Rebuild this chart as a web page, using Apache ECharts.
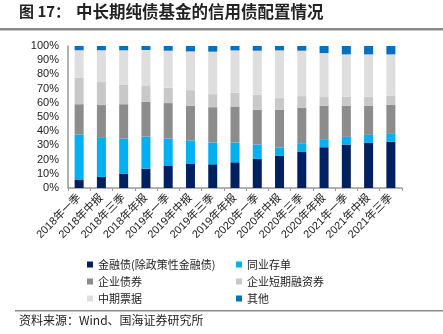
<!DOCTYPE html>
<html><head><meta charset="utf-8">
<script src="https://cdn.jsdelivr.net/npm/echarts@6/dist/echarts.min.js"></script>
<style>html,body{margin:0;padding:0;background:#fff}#c{width:443px;height:334px}</style>
</head><body><div id="c"></div>
<script>
const categories = ['2018年一季','2018年中报','2018年三季','2018年年报','2019年一季','2019年中报','2019年三季','2019年年报','2020年一季','2020年中报','2020年三季','2020年年报','2021年一季','2021年中报','2021年三季'];
const finBonds   = [6, 7.8, 9.9, 13.6, 15.5, 16.9, 16.7, 18.1, 20.5, 22.6, 25.4, 28.7, 30.6, 32, 32.5];
const ncds       = [31.6, 27.5, 24.9, 22.6, 19.3, 16.5, 15.3, 13.9, 10.1, 5.9, 6.1, 5.7, 5.4, 5.4, 5.6];
const corpBonds  = [21.4, 23.1, 24.2, 24.5, 25, 24.5, 24.9, 25.4, 24.5, 26.6, 25, 23.5, 21.9, 20.5, 20.5];
const cps        = [18.6, 16.2, 13.9, 11.1, 10.8, 11, 9.2, 9.7, 10.5, 8.2, 8.2, 6.1, 6.3, 6.3, 6.3];
const mtns       = [19.4, 22.4, 24.1, 25.4, 26.1, 27.3, 29.9, 29.8, 31.1, 33.6, 32, 31, 29.9, 29.9, 29.2];
const others     = [3, 3, 3, 2.8, 3.3, 3.8, 4, 3.1, 3.3, 3.1, 3.3, 5, 5.9, 5.9, 5.9];
const seriesNames = ['金融债(除政策性金融债)','同业存单','企业债券','企业短期融资券','中期票据','其他'];
const yTicks = ['0%','10%','20%','30%','40%','50%','60%','70%','80%','90%','100%'];

const colors = ['#002060','#00B0F0','#8C8C8C','#C8C8C8','#DEDEDE','#0070C0'];
const dataArr = [finBonds, ncds, corpBonds, cps, mtns, others];
const font = 'Arial, "Liberation Sans", "Noto Sans CJK SC", sans-serif';
const cjk = '"Noto Sans CJK SC", sans-serif';

const chart = echarts.init(document.getElementById('c'), null, {renderer:'canvas'});
chart.setOption({
  animation:false,
  backgroundColor:'#fff',
  color: colors,
  grid:{left:68, right:41, top:46, bottom:146},
  legend:[
    {orient:'vertical', left:82, top:254, itemWidth:6, itemHeight:6, itemGap:6, icon:'rect',
     textStyle:{fontFamily:cjk, fontSize:11, color:'#222'},
     data:[seriesNames[0], seriesNames[2], seriesNames[4]]},
    {orient:'vertical', left:231, top:254, itemWidth:6, itemHeight:6, itemGap:6, icon:'rect',
     textStyle:{fontFamily:cjk, fontSize:11, color:'#222'},
     data:[seriesNames[1], seriesNames[3], seriesNames[5]]}
  ],
  xAxis:{type:'category', data:categories,
    axisLine:{lineStyle:{color:'#999', width:1.5}},
    axisTick:{show:true, length:3, lineStyle:{color:'#999'}},
    axisLabel:{rotate:45, interval:0, fontFamily:font, fontSize:11, color:'#222', margin:8}
  },
  yAxis:{type:'value', min:0, max:100, interval:10,
    axisLine:{show:true, lineStyle:{color:'#999', width:1.5}},
    axisTick:{show:false},
    splitLine:{show:false},
    axisLabel:{fontFamily:font, fontSize:11, color:'#222', margin:9,
      formatter:(v)=>yTicks[Math.round(v/10)]}
  },
  series: seriesNames.map((n,i)=>({
    name:n, type:'bar', stack:'all', barWidth:9, data:dataArr[i],
    itemStyle:{color:colors[i]}
  })),
  graphic:[
    {type:'text', left:19, top:4, style:{text:'图 17：', font:'bold 15px '+cjk, fill:'#222'}},
    {type:'text', left:76, top:3, style:{text:'中长期纯债基金的信用债配置情况', font:'bold 16.5px '+cjk, fill:'#222'}},
    {type:'rect', shape:{x:0, y:28, width:443, height:2.5}, style:{fill:'#8a8a8a'}},
    {type:'rect', shape:{x:15, y:310, width:428, height:1.5}, style:{fill:'#8a8a8a'}},
    {type:'text', left:19, top:314, style:{text:'资料来源：Wind、国海证券研究所', font:'12px '+cjk, fill:'#222'}}
  ]
});
</script></body></html>
